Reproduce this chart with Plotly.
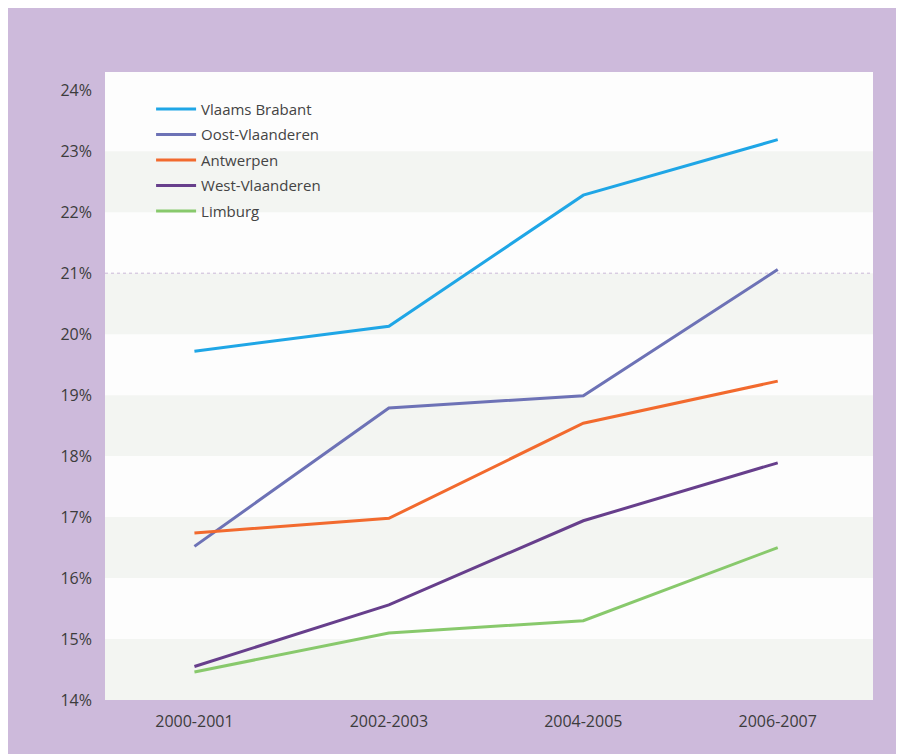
import plotly.graph_objects as go

categories = ["2000-2001", "2002-2003", "2004-2005", "2006-2007"]
vlaams_brabant = [19.72, 20.13, 22.28, 23.19]
oost_vlaanderen = [16.52, 18.79, 18.99, 21.06]
antwerpen = [16.74, 16.98, 18.54, 19.23]
west_vlaanderen = [14.55, 15.56, 16.94, 17.89]
limburg = [14.46, 15.10, 15.30, 16.50]
tick_vals = [14, 15, 16, 17, 18, 19, 20, 21, 22, 23, 24]
tick_text = [f"{v}%" for v in tick_vals]

series = [
    ("Vlaams Brabant", vlaams_brabant, "#1fa6e6"),
    ("Oost-Vlaanderen", oost_vlaanderen, "#6d72b6"),
    ("Antwerpen", antwerpen, "#f26a2e"),
    ("West-Vlaanderen", west_vlaanderen, "#673f8c"),
    ("Limburg", limburg, "#88c96c"),
]

fig = go.Figure()
for name, vals, col in series:
    fig.add_trace(go.Scatter(x=list(range(len(categories))), y=vals, mode="lines",
                             name=name, legendgroup=name,
                             line=dict(color=col, width=3)))

# faint alternating bands
for lo in [14, 16, 18, 20, 22]:
    fig.add_shape(type="rect", xref="paper", yref="y", x0=0, x1=1, y0=lo, y1=lo + 1,
                  fillcolor="#f3f5f2", line_width=0, layer="below")
fig.add_shape(type="line", xref="paper", yref="y", x0=0, x1=1, y0=21, y1=21,
              line=dict(color="#cbb8d8", width=1, dash="dot"), layer="below")

fig.update_layout(
    width=904, height=754,
    paper_bgcolor="#cdbadb",
    plot_bgcolor="#fdfdfd",
    margin=dict(l=97, r=39, t=64, b=62),
    font=dict(family="Open Sans, sans-serif", color="#444444", size=16),
    showlegend=True,
    legend=dict(x=0.06, y=0.967, xanchor="left", yanchor="top",
                bgcolor="rgba(0,0,0,0)", font=dict(size=15, color="#444444"),
                tracegroupgap=3, itemwidth=40),
    xaxis=dict(range=[-0.46, 3.49], tickvals=list(range(len(categories))),
               ticktext=categories, showgrid=False, zeroline=False, showline=False,
               ticks="", ticklabelstandoff=10, tickfont=dict(size=16, color="#3c3c3c")),
    yaxis=dict(range=[14.0, 24.3], tickvals=tick_vals, ticktext=tick_text,
               showgrid=False, zeroline=False, showline=False, ticks="",
               ticklabelstandoff=12, tickfont=dict(size=16, color="#3c3c3c")),
)

fig.write_html("out.html")
